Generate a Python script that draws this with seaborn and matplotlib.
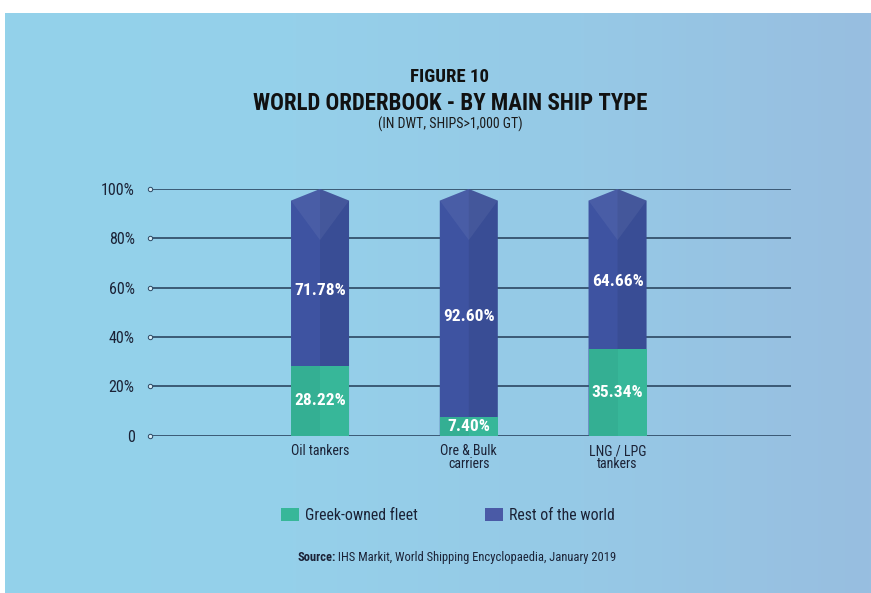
import numpy as np
import pandas as pd
import matplotlib
matplotlib.use("Agg")
import matplotlib.pyplot as plt
import seaborn as sns
from matplotlib.patches import Polygon, Patch
from matplotlib.colors import LinearSegmentedColormap

# ---------------- data ----------------
categories = ["Oil tankers", "Ore & Bulk\ncarriers", "LNG / LPG\ntankers"]
greek = [28.22, 7.40, 35.34]
rest = [71.78, 92.60, 64.66]
yticks = [0, 20, 40, 60, 80, 100]
ytick_labels = ["0", "20%", "40%", "60%", "80%", "100%"]
series_names = ["Greek-owned fleet", "Rest of the world"]

# ---------------- style ----------------
sns.set_theme(style="white")
FAM = ["Roboto Condensed", "Roboto", "DejaVu Sans"]
plt.rcParams["font.family"] = FAM

C_GREEN = "#37b799"
C_BLUE = "#3e53a1"
C_GRID = "#2c4762"
C_TEXT = "#1b2236"

W, H = 871, 593
fig = plt.figure(figsize=(W / 100, H / 100), dpi=100)
fig.patch.set_facecolor("white")

# background gradient panel
bg = fig.add_axes([5 / W, 0, 1 - 5 / W, (H - 13) / H])
grad = np.linspace(0, 1, 256)[None, :]
cmap = LinearSegmentedColormap.from_list("bg", ["#93d2ea", "#95d0ea", "#96c9e6", "#98bee0"])
bg.imshow(grad, aspect="auto", cmap=cmap, extent=[0, 1, 0, 1])
bg.set_axis_off()

# main axes
ax = fig.add_axes([150 / W, 1 - 435.7 / H, (791 - 150) / W, (435.7 - 189) / H])
ax.patch.set_alpha(0)

df = pd.DataFrame({"category": categories, "greek": greek, "rest": rest})
df["total"] = df["greek"] + df["rest"]

bw = 0.39
sns.barplot(data=df, x="category", y="total", color=C_BLUE, width=bw, ax=ax,
            saturation=1, linewidth=0, zorder=3)
n_tot = len(ax.patches)
sns.barplot(data=df, x="category", y="greek", color=C_GREEN, width=bw, ax=ax,
            saturation=1, linewidth=0, zorder=4)

# turn the total bars into "roofed" columns derived from the bar geometry
roof = 4.7
for p in ax.patches[:n_tot]:
    x0, w, h = p.get_x(), p.get_width(), p.get_height()
    xc, x1 = x0 + w / 2, x0 + w
    p.set_visible(False)
    ax.add_patch(Polygon([(x0, 0), (x0, h - roof), (xc, h), (x1, h - roof), (x1, 0)],
                         closed=True, facecolor=C_BLUE, edgecolor="none", zorder=3))
    ax.add_patch(Polygon([(xc, 0), (xc, h), (x1, h - roof), (x1, 0)],
                         closed=True, facecolor="black", alpha=0.07, edgecolor="none", zorder=3.1))
    ax.add_patch(Polygon([(x0, h - roof), (xc, h), (x1, h - roof), (xc, h - roof - 16)],
                         closed=True, facecolor="white", alpha=0.06, edgecolor="none", zorder=3.2))

for p in ax.patches[n_tot:n_tot + len(greek)]:
    x0, w, h = p.get_x(), p.get_width(), p.get_height()
    ax.add_patch(Polygon([(x0, 0), (x0, h), (x0 + w / 2, h), (x0 + w / 2, 0)],
                         closed=True, facecolor="black", alpha=0.04, edgecolor="none", zorder=4.1))

# value labels
for i, (g, r) in enumerate(zip(greek, rest)):
    ax.text(i, g / 2, f"{g:.2f}%", ha="center", va="center", color="white",
            fontsize=12.5, fontweight="bold", zorder=6)
    ax.text(i, (g + 100 - roof) / 2 - 3, f"{r:.2f}%", ha="center", va="center",
            color="white", fontsize=12.5, fontweight="bold", zorder=6)

# axes formatting
ax.set_xlim(-1.143, 3.166)
ax.set_ylim(0, 100)
ax.set_yticks(yticks)
ax.set_yticklabels(ytick_labels)
ax.yaxis.grid(True, color=C_GRID, linewidth=1.2)
ax.xaxis.grid(False)
ax.set_axisbelow(True)
for s in ax.spines.values():
    s.set_visible(False)
ax.set_xlabel("")
ax.set_ylabel("")
ax.tick_params(axis="y", length=0, pad=11, labelsize=11.5, labelcolor=C_TEXT)
ax.tick_params(axis="x", length=0, pad=6, labelsize=10, labelcolor=C_TEXT)
for t in ax.get_xticklabels():
    t.set_linespacing(0.92)
    t.set_va("top")
ax.scatter([ax.get_xlim()[0]] * len(yticks), yticks, s=10, facecolor="#d8ecf6",
           edgecolor=C_GRID, linewidth=0.7, clip_on=False, zorder=5)

# titles
cx = 450 / W
fig.text(cx, 1 - 77.5 / H, "FIGURE 10", ha="center", va="center", fontsize=13.5,
         fontweight="bold", color="#111111")
fig.text(cx, 1 - 103.5 / H, "WORLD ORDERBOOK - BY MAIN SHIP TYPE", ha="center", va="center",
         fontsize=16.5, fontweight="bold", color="#111111")
fig.text(cx, 1 - 124 / H, "(IN DWT, SHIPS>1,000 GT)", ha="center", va="center",
         fontsize=10, color="#1a1a1a")

# legend
handles = [Patch(facecolor=C_GREEN, edgecolor="none"), Patch(facecolor="#4a5aa6", edgecolor="none")]
fig.legend(handles, series_names, loc="center", bbox_to_anchor=(448 / W, 1 - 515 / H),
           ncol=2, frameon=False, fontsize=11.3, handlelength=1.15, handleheight=0.9,
           handletextpad=0.35, columnspacing=4.3, labelcolor=C_TEXT)

# source
fig.canvas.draw()
renderer = fig.canvas.get_renderer()
src_y = 1 - 561 / H
t1 = fig.text(297 / W, src_y, "Source:", ha="left", va="baseline", fontsize=9,
              fontweight="bold", color=C_TEXT)
ext = t1.get_window_extent(renderer=renderer)
fig.text(ext.x1 / W, src_y, " IHS Markit, World Shipping Encyclopaedia, January 2019",
         ha="left", va="baseline", fontsize=9, color=C_TEXT)

fig.savefig("out.png", dpi=100, facecolor=fig.get_facecolor())
